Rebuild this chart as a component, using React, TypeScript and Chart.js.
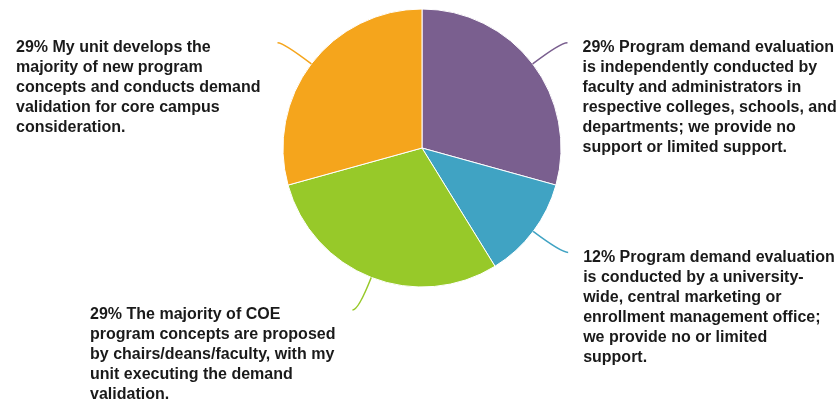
import React, { useEffect, useRef } from "react";
import { Chart, registerables } from "chart.js";

Chart.register(...registerables);

const categories = [
  "Program demand evaluation is independently conducted by faculty and administrators in respective colleges, schools, and departments; we provide no support or limited support.",
  "Program demand evaluation is conducted by a university-wide, central marketing or enrollment management office; we provide no or limited support.",
  "The majority of COE program concepts are proposed by chairs/deans/faculty, with my unit executing the demand validation.",
  "My unit develops the majority of new program concepts and conducts demand validation for core campus consideration.",
];
const values = [29.3, 11.9, 29.5, 29.3];
const percentLabels = ["29%", "12%", "29%", "29%"];
const labelLines = [
  [
    "29% Program demand evaluation",
    "is independently conducted by",
    "faculty and administrators in",
    "respective colleges, schools, and",
    "departments; we provide no",
    "support or limited support.",
  ],
  [
    "12% Program demand evaluation",
    "is conducted by a university-",
    "wide, central marketing or",
    "enrollment management office;",
    "we provide no or limited",
    "support.",
  ],
  [
    "29% The majority of COE",
    "program concepts are proposed",
    "by chairs/deans/faculty, with my",
    "unit executing the demand",
    "validation.",
  ],
  [
    "29% My unit develops the",
    "majority of new program",
    "concepts and conducts demand",
    "validation for core campus",
    "consideration.",
  ],
];
const colors = ["#7A5F8F", "#40A3C3", "#97C929", "#F5A51C"];

const calloutPlugin = {
  id: "callouts",
  afterDatasetsDraw(chart: any) {
    const ctx = chart.ctx as CanvasRenderingContext2D;
    const meta = chart.getDatasetMeta(0);
    ctx.save();
    ctx.font = "bold 16px 'Liberation Sans', Arial, sans-serif";
    ctx.textBaseline = "alphabetic";
    meta.data.forEach((arc: any, i: number) => {
      const { x, y, startAngle, endAngle, outerRadius } = arc.getProps(
        ["x", "y", "startAngle", "endAngle", "outerRadius"],
        true
      );
      const mid = (startAngle + endAngle) / 2;
      const cos = Math.cos(mid);
      const sin = Math.sin(mid);
      const sx = x + cos * outerRadius;
      const sy = y + sin * outerRadius;
      const ext = 35;
      const cx = x + cos * (outerRadius + ext);
      const cy = y + sin * (outerRadius + ext);
      const right = cos >= 0;
      const ex = cx + (right ? 7 : -6);
      const ey = cy;
      ctx.strokeStyle = colors[i];
      ctx.lineWidth = 1.5;
      ctx.beginPath();
      ctx.moveTo(sx, sy);
      ctx.quadraticCurveTo(cx, cy, ex, ey);
      ctx.stroke();

      const lines = labelLines[i];
      const widths = lines.map((l) => ctx.measureText(l).width);
      const maxW = Math.max(...widths);
      const tx = right ? ex + 15 : ex - 17 - maxW;
      const ty = ey + 9.5;
      ctx.fillStyle = "#1a1a1a";
      ctx.textAlign = "left";
      lines.forEach((l, k) => ctx.fillText(l, tx, ty + k * 20));
    });
    ctx.restore();
  },
};

export default function App() {
  const ref = useRef<HTMLCanvasElement>(null);
  useEffect(() => {
    document.body.style.margin = "0";
    const chart = new Chart(ref.current!, {
      type: "pie",
      data: {
        labels: categories.map((c, i) => percentLabels[i] + " " + c),
        datasets: [
          {
            data: values,
            backgroundColor: colors,
            borderColor: "#ffffff",
            borderWidth: 1,
          },
        ],
      },
      options: {
        responsive: false,
        animation: false,
        layout: { padding: { left: 282.5, right: 277.5, top: 8.5, bottom: 116.5 } },
        plugins: {
          legend: { display: false },
          tooltip: { enabled: false },
        },
      },
      plugins: [calloutPlugin],
    });
    return () => chart.destroy();
  }, []);
  return (
    <div style={{ width: 839, height: 404, background: "#fff" }}>
      <canvas ref={ref} width={839} height={404} />
    </div>
  );
}
